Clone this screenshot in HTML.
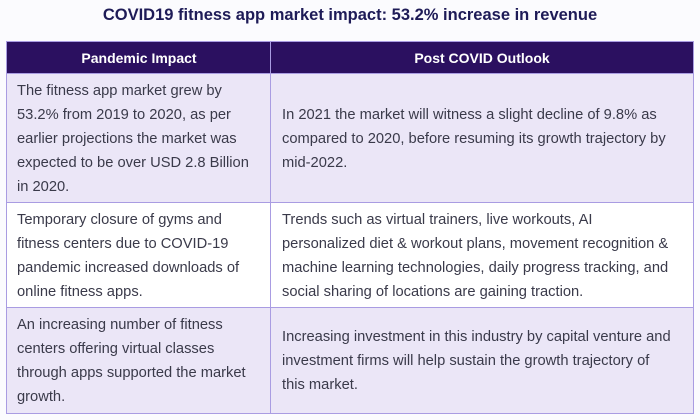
<!DOCTYPE html>
<html><head><meta charset="utf-8"><style>
body{margin:0;width:700px;height:420px;background:#fbfbfe;font-family:"Liberation Sans",sans-serif;position:relative;overflow:hidden}
.t{position:absolute;top:6px;left:0;width:700px;text-align:center;font-weight:bold;font-size:16.5px;color:#1e1b57}
.c{position:absolute;box-sizing:border-box;border:1.5px solid #a99ce2;display:flex;align-items:center;font-size:14.7px;line-height:24px;color:#3a3a4a;white-space:nowrap}
.h{background:#2b1060;color:#fff;font-weight:bold;justify-content:center;font-size:14px;border-color:#a99ce2}
.l{background:#ebe6f7}.w{background:#fff}
.L{padding-left:10px}.R{padding-left:11px}
</style></head><body>
<div class="t">COVID19 fitness app market impact: 53.2% increase in revenue</div>
<div class="c h" style="left:6px;top:41px;width:266px;height:34px">Pandemic Impact</div>
<div class="c h" style="left:270px;top:41px;width:424px;height:34px">Post COVID Outlook</div>

<div class="c l L" style="left:6px;top:73px;width:266px;height:131px"><div>The fitness app market grew by<br>53.2% from 2019 to 2020, as per<br>earlier projections the market was<br>expected to be over USD 2.8 Billion<br>in 2020.</div></div>
<div class="c l R" style="left:270px;top:73px;width:424px;height:131px"><div>In 2021 the market will witness a slight decline of 9.8% as<br>compared to 2020, before resuming its growth trajectory by<br>mid-2022.</div></div>

<div class="c w L" style="left:6px;top:202px;width:266px;height:107px"><div>Temporary closure of gyms and<br>fitness centers due to COVID-19<br>pandemic increased downloads of<br>online fitness apps.</div></div>
<div class="c w R" style="left:270px;top:202px;width:424px;height:107px"><div>Trends such as virtual trainers, live workouts, AI<br>personalized diet &amp; workout plans, movement recognition &amp;<br>machine learning technologies, daily progress tracking, and<br>social sharing of locations are gaining traction.</div></div>

<div class="c l L" style="left:6px;top:307px;width:266px;height:107px"><div>An increasing number of fitness<br>centers offering virtual classes<br>through apps supported the market<br>growth.</div></div>
<div class="c l R" style="left:270px;top:307px;width:424px;height:107px"><div>Increasing investment in this industry by capital venture and<br>investment firms will help sustain the growth trajectory of<br>this market.</div></div>
</body></html>
